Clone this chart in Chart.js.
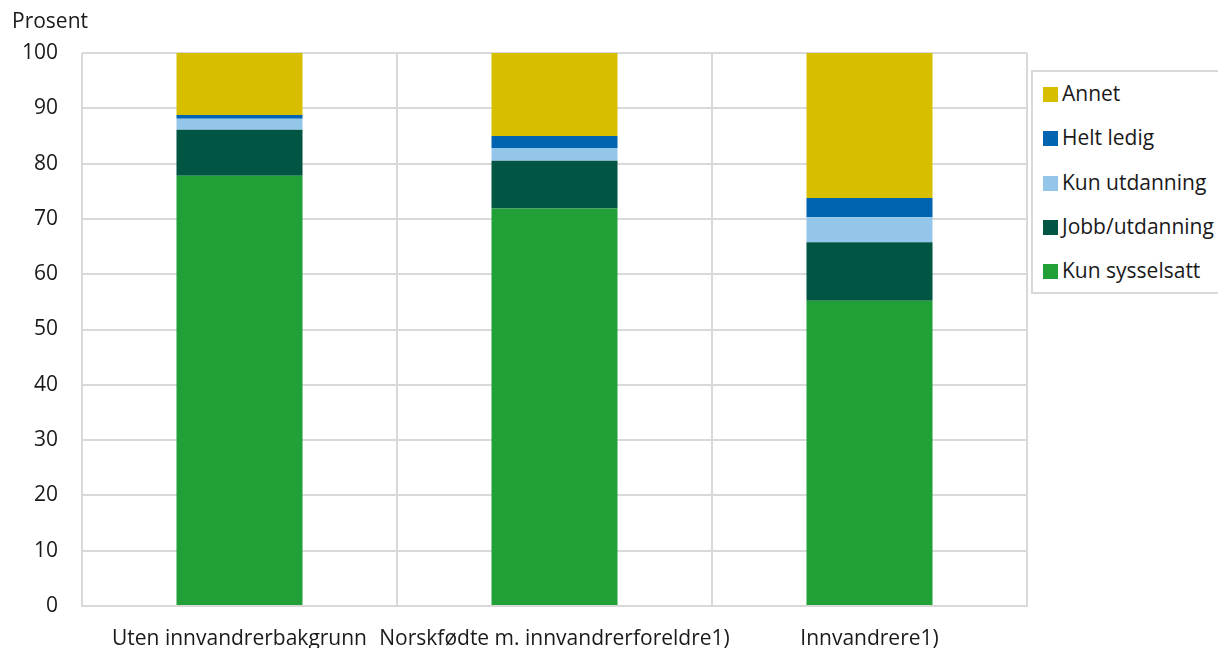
<!DOCTYPE html>
<html><head><meta charset="utf-8">
<script src="https://cdn.jsdelivr.net/npm/chart.js@4/dist/chart.umd.min.js"></script>
<style>
html,body{margin:0;padding:0;background:#fff;}
#wrap{position:relative;width:1218px;height:648px;overflow:hidden;font-family:"Open Sans",sans-serif;color:#1a1a1a;}
#c{position:absolute;left:0;top:0;}
#ytitle{position:absolute;left:12px;top:6px;font-size:21px;line-height:28px;}
#legend{position:absolute;left:1031px;top:70px;width:200px;height:224px;border:2px solid #d9d9d9;box-sizing:border-box;background:#fff;}
.li{position:absolute;left:10px;font-size:21px;line-height:26px;white-space:nowrap;}
.li span{display:inline-block;width:15px;height:15px;margin-right:4px;vertical-align:-1px;}
</style></head>
<body><div id="wrap"><canvas id="c" width="1218" height="648"></canvas>
<div id="ytitle">Prosent</div><div id="legend"></div></div>
<script>
const categories = ["Uten innvandrerbakgrunn", "Norskfødte m. innvandrerforeldre1)", "Innvandrere1)"];
const kunSysselsatt = [77.8, 71.9, 55.2];
const jobbUtdanning = [8.3, 8.6, 10.6];
const kunUtdanning = [2.0, 2.3, 4.5];
const heltLedig = [0.7, 2.2, 3.5];
const annet = [11.2, 15.0, 26.2];
const yTicks = [0,10,20,30,40,50,60,70,80,90,100];

const series = [
  {label:"Kun sysselsatt", data:kunSysselsatt, color:"#21a038"},
  {label:"Jobb/utdanning", data:jobbUtdanning, color:"#005543"},
  {label:"Kun utdanning", data:kunUtdanning, color:"#94c6ea"},
  {label:"Helt ledig", data:heltLedig, color:"#0064b0"},
  {label:"Annet", data:annet, color:"#d7bf00"}
];

const lg = document.getElementById('legend');
series.slice().reverse().forEach((s,i)=>{
  const d=document.createElement('div');d.className='li';d.style.top=(8+i*44.3)+'px';
  d.innerHTML='<span style="background:'+s.color+'"></span>'+s.label;lg.appendChild(d);
});

Chart.defaults.font.family = '"Open Sans", sans-serif';
Chart.defaults.color = '#1a1a1a';
new Chart(document.getElementById('c'), {
  type:'bar',
  data:{labels:categories, datasets:series.map(s=>({label:s.label,data:s.data,backgroundColor:s.color,borderWidth:0,barPercentage:0.4,categoryPercentage:1.0}))},
  options:{
    responsive:false, animation:false,
    layout:{padding:{left:0,top:53,right:191,bottom:0}},
    plugins:{legend:{display:false},tooltip:{enabled:false}},
    scales:{
      x:{stacked:true,
         grid:{color:'#d9d9d9',lineWidth:2,offset:true,drawTicks:false},
         border:{color:'#d9d9d9',width:2},
         ticks:{font:{size:21},padding:20,maxRotation:0,autoSkip:false},
         afterFit:(s)=>{s.height=42;}
      },
      y:{stacked:true,min:0,max:100,
         afterBuildTicks:(s)=>{s.ticks=yTicks.map(v=>({value:v}));},
         grid:{color:'#d9d9d9',lineWidth:2,drawTicks:false},
         border:{display:false},
         ticks:{font:{size:21},padding:24},
         afterFit:(s)=>{s.width=82;}
      }
    }
  }
});
</script></body></html>
